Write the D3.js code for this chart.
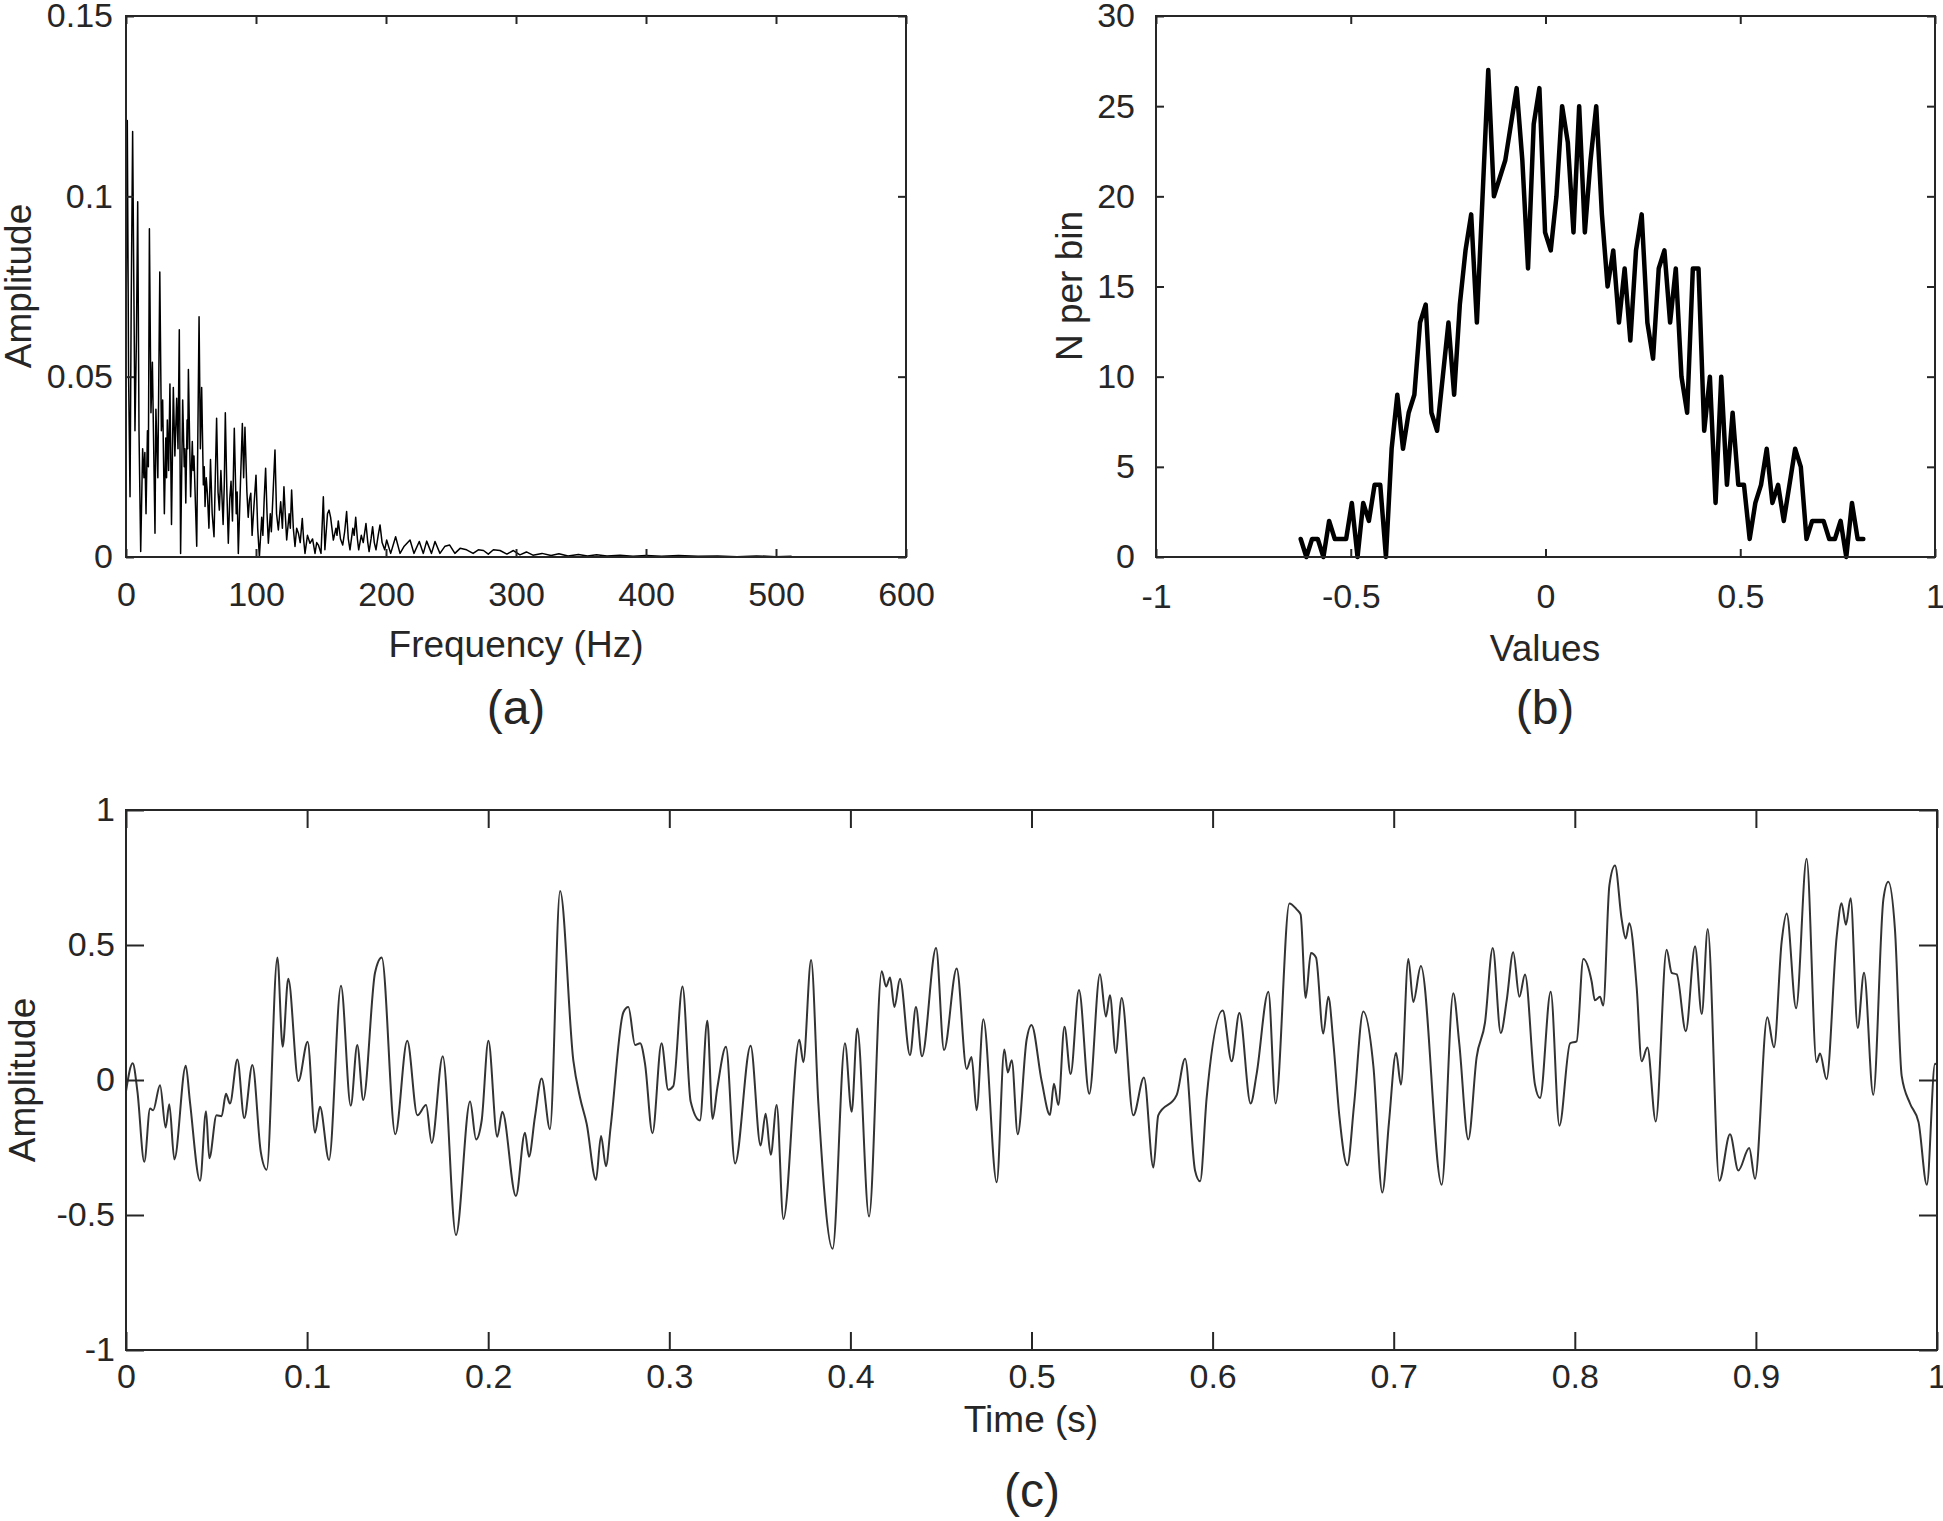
<!DOCTYPE html>
<html>
<head>
<meta charset="utf-8">
<script src="https://cdn.jsdelivr.net/npm/d3@7"></script>
<style>
  body { margin: 0; background: #fff; }
  text { font-family: "Liberation Sans", Arial, sans-serif; fill: #262626; }
</style>
</head>
<body>
<script>
// ---- (a) amplitude spectrum (Hz, amplitude)
var specFreq = [0, 1, 2, 3.1, 4, 5.1, 6.9, 8, 9, 10, 11.3, 12.8, 13.8, 14.5, 15.4, 16.5, 17.2,
  18, 19.2, 20.3, 22.3, 23, 24.5, 26, 27.2, 28.2, 29.5, 30.6, 31.2, 31.8, 32.8, 33.8, 35,
  36.4, 37.6, 39, 40, 41, 42, 43.6, 44.8, 45.3, 46, 47, 47.5, 48, 49.7, 51, 51.6, 52.3, 54.4,
  56.2, 57.2, 58.2, 59.5, 60.2, 60.8, 61.7, 62.6, 63.8, 65, 66.3, 67.7, 68.7, 69.7, 70.8,
  71.8, 73, 74.7, 75.6, 76.4, 77.6, 78.7, 79.8, 80.8, 81.9, 83.3, 84.8, 85.5, 86.4, 88,
  89.5, 90.5, 91.5, 93, 94, 95, 96, 97, 98.4, 100, 101.3, 102.6, 104.4, 105.3, 106.3,
  107.4, 108.5, 109.5, 111, 111.8, 112.8, 114.6, 115.8, 117.2, 119, 120.3, 121.5, 122.5,
  123.6, 125.5, 126.4, 127.4, 128.7, 130, 131.3, 132.6, 134, 135.6, 136.6, 137.7, 139.6,
  141.5, 143.5, 145.4, 146.7, 148, 150, 151.8, 153, 155, 156.2, 157.4, 158.4, 159.5,
  161.5, 162.3, 163.3, 165, 166.7, 168.2, 169.7, 171, 172.3, 174.5, 175.5, 176.7, 178,
  179, 181, 182.5, 184.6, 186, 187, 188.5, 189.7, 191, 192.3, 194, 195.4, 197, 199,
  200.5, 203.6, 207.4, 210.8, 214, 218.5, 221.5, 225.6, 228.7, 231.3, 235, 237.7, 241.5,
  245.4, 249, 253, 257, 262, 267, 271, 275, 278.7, 282.6, 287.7, 293, 298, 303, 308, 313,
  320, 327, 333, 340, 348, 355, 362, 370, 380, 390, 400, 412, 425, 440, 455, 470, 485,
  500, 512];
var specAmp = [0.061, 0.121, 0.05, 0.0167, 0.07, 0.118, 0.035, 0.06, 0.0985, 0.035, 0.0015,
  0.030, 0.022, 0.029, 0.012, 0.035, 0.025, 0.091, 0.040, 0.054, 0.0066, 0.041, 0.022,
  0.079, 0.035, 0.0435, 0.012, 0.033, 0.022, 0.038, 0.024, 0.048, 0.009, 0.047, 0.028,
  0.044, 0.03, 0.063, 0.001, 0.0435, 0.025, 0.03, 0.015, 0.038, 0.03, 0.052, 0.0167, 0.032,
  0.024, 0.028, 0.003, 0.0666, 0.03, 0.047, 0.02, 0.025, 0.014, 0.022, 0.0177, 0.008,
  0.027, 0.012, 0.0056, 0.022, 0.0385, 0.018, 0.013, 0.024, 0.009, 0.02, 0.040, 0.018,
  0.0038, 0.016, 0.021, 0.01, 0.0357, 0.012, 0.018, 0.001, 0.02, 0.037, 0.022, 0.036,
  0.018, 0.011, 0.016, 0.0177, 0.006, 0.014, 0.0227, 0.008, 0, 0.011, 0.006, 0.016, 0.0246,
  0.012, 0.0038, 0.012, 0.007, 0.015, 0.0297, 0.012, 0.0075, 0.0153, 0.008, 0.0195, 0.012,
  0.0047, 0.012, 0.008, 0.0186, 0.008, 0.0029, 0.008, 0.0066, 0.004, 0.0107, 0.005, 0.001,
  0.006, 0.0038, 0.005, 0.001, 0.004, 0.0033, 0.001, 0.0167, 0.002, 0.012, 0.013, 0.011,
  0.008, 0.0047, 0.008, 0.006, 0.010, 0.005, 0.0033, 0.007, 0.0126, 0.005, 0.002, 0.008,
  0.006, 0.011, 0.005, 0.002, 0.006, 0.004, 0.0093, 0.004, 0.0015, 0.005, 0.0084, 0.004,
  0.002, 0.006, 0.0089, 0.004, 0.002, 0.0047, 0.001, 0.0056, 0.001, 0.003, 0.0047, 0.001,
  0.0043, 0.001, 0.0044, 0.001, 0.0043, 0.001, 0.003, 0.0033, 0.001, 0.0024, 0.002, 0.001,
  0.002, 0.0018, 0.0008, 0.002, 0.0018, 0.0008, 0.0018, 0.0006, 0.0014, 0.0005, 0.001,
  0.0004, 0.0009, 0.0003, 0.0007, 0.0003, 0.0006, 0.0003, 0.0005, 0.0002, 0.0004, 0.0002,
  0.0004, 0.0002, 0.0003, 0.0001, 0.0003, 0.0001, 0.0002];

// ---- (b) histogram, counts per bin
var histCounts = [1, 0, 1, 1, 0, 2, 1, 1, 1, 3, 0, 3, 2, 4, 4, 0, 6, 9, 6, 8, 9, 13, 14, 8, 7,
  10, 13, 9, 14, 17, 19, 13, 20, 27, 20, 21, 22, 24, 26, 22, 16, 24, 26, 18, 17, 20, 25, 23,
  18, 25, 18, 22, 25, 19, 15, 17, 13, 16, 12, 17, 19, 13, 11, 16, 17, 13, 16, 10, 8, 16, 16,
  7, 10, 3, 10, 4, 8, 4, 4, 1, 3, 4, 6, 3, 4, 2, 4, 6, 5, 1, 2, 2, 2, 1, 1, 2, 0, 3, 1, 1];
var histFirstCenter = -0.6285;
var histLastCenter = 0.816;

// ---- (c) time signal (s, amplitude)
var sigTime = [0, 0.0037, 0.0063, 0.0101, 0.0133, 0.015, 0.0188, 0.0219, 0.0239, 0.0267,
  0.033, 0.0353, 0.0409, 0.0442, 0.046, 0.05, 0.0528, 0.0552, 0.0574, 0.0615, 0.0653,
  0.0698, 0.0744, 0.0777, 0.0836, 0.0865, 0.0896, 0.0952, 0.1003, 0.1044, 0.1071, 0.1121,
  0.1187, 0.1241, 0.1277, 0.131, 0.1375, 0.1412, 0.1487, 0.1553, 0.1609, 0.1657, 0.1688,
  0.1749, 0.1822, 0.19, 0.1933, 0.1964, 0.2001, 0.205, 0.2078, 0.2153, 0.2203, 0.2225,
  0.2258, 0.2295, 0.2341, 0.2397, 0.247, 0.2507, 0.2544, 0.2595, 0.2623, 0.265, 0.2676,
  0.2746, 0.2774, 0.2811, 0.2839, 0.2866, 0.2907, 0.2957, 0.2994, 0.3022, 0.3073, 0.3118,
  0.3169, 0.321, 0.3239, 0.3265, 0.3313, 0.3363, 0.3449, 0.3504, 0.3532, 0.356, 0.3593,
  0.363, 0.3718, 0.374, 0.3783, 0.3823, 0.3902, 0.397, 0.4007, 0.4038, 0.4103, 0.4173,
  0.4197, 0.4219, 0.4243, 0.4274, 0.4329, 0.4362, 0.4395, 0.4473, 0.4517, 0.4587, 0.4642,
  0.4669, 0.4697, 0.4734, 0.4808, 0.485, 0.4869, 0.4891, 0.4924, 0.4973, 0.5, 0.5056,
  0.5102, 0.5124, 0.5148, 0.5182, 0.5216, 0.5262, 0.5319, 0.5378, 0.5411, 0.5433, 0.5465,
  0.5498, 0.5562, 0.5621, 0.5673, 0.57, 0.5802, 0.5848, 0.5903, 0.5931, 0.5967, 0.6056,
  0.6105, 0.6148, 0.621, 0.6243, 0.6308, 0.6348, 0.6424, 0.6464, 0.6486, 0.6514, 0.6543,
  0.6571, 0.6611, 0.6639, 0.6667, 0.67, 0.6744, 0.6781, 0.6832, 0.6888, 0.6937, 0.6974,
  0.7013, 0.704, 0.7081, 0.7108, 0.715, 0.7265, 0.7329, 0.7362, 0.7412, 0.7458, 0.7504,
  0.7547, 0.7591, 0.7624, 0.766, 0.7694, 0.7725, 0.778, 0.7808, 0.7867, 0.7915, 0.7974,
  0.801, 0.8047, 0.8093, 0.8111, 0.8139, 0.8157, 0.8191, 0.8222, 0.8259, 0.8281, 0.8301,
  0.8342, 0.8369, 0.8401, 0.8447, 0.8507, 0.8535, 0.8563, 0.8613, 0.8664, 0.8701, 0.8734,
  0.8798, 0.8857, 0.8903, 0.8963, 0.8995, 0.9063, 0.91, 0.9142, 0.917, 0.9222, 0.928,
  0.9335, 0.9354, 0.939, 0.9446, 0.9473, 0.9497, 0.9523, 0.9562, 0.9597, 0.9648, 0.9704,
  0.9731, 0.9768, 0.9805, 0.9851, 0.9898, 0.9944, 0.9989, 1.0];
var sigAmp = [-0.042, 0.062, -0.042, -0.303, -0.106, -0.112, -0.019, -0.176, -0.09, -0.294,
  0.053, -0.08, -0.373, -0.116, -0.29, -0.131, -0.134, -0.051, -0.087, 0.076, -0.141,
  0.056, -0.265, -0.332, 0.454, 0.123, 0.375, -0.004, 0.142, -0.195, -0.099, -0.296,
  0.349, -0.095, 0.130, -0.074, 0.397, 0.454, -0.201, 0.145, -0.131, -0.093, -0.233,
  0.088, -0.574, -0.08, -0.22, -0.15, 0.145, -0.21, -0.118, -0.43, -0.195, -0.284,
  -0.137, 0.006, -0.182, 0.70, 0.073, -0.065, -0.163, -0.37, -0.207, -0.319, -0.175,
  0.25, 0.27, 0.13, 0.136, 0.06, -0.197, 0.136, -0.036, -0.023, 0.346, -0.08,
  -0.15, 0.219, -0.144, -0.03, 0.123, -0.309, 0.127, -0.243, -0.125, -0.277, -0.093,
  -0.515, 0.149, 0.066, 0.444, -0.086, -0.625, 0.136, -0.118, 0.191, -0.506, 0.403,
  0.346, 0.38, 0.27, 0.375, 0.092, 0.27, 0.088, 0.489, 0.111, 0.413, 0.041,
  0.085, -0.112, 0.225, -0.379, 0.113, 0.028, 0.073, -0.201, 0.149, 0.204, -0.004,
  -0.129, -0.014, -0.093, 0.197, 0.022, 0.333, -0.051, 0.392, 0.235, 0.314, 0.1,
  0.304, -0.131, 0.009, -0.324, -0.131, -0.055, 0.079, -0.335, -0.375, -0.067, 0.257,
  0.069, 0.248, -0.087, 0.022, 0.327, -0.087, 0.654, 0.632, 0.613, 0.304, 0.47,
  0.454, 0.172, 0.308, 0.136, -0.134, -0.316, -0.093, 0.254, 0.05, -0.417, -0.156,
  0.1, -0.017, 0.448, 0.289, 0.422, -0.388, 0.321, 0.136, -0.22, 0.085, 0.212,
  0.489, 0.174, 0.295, 0.473, 0.308, 0.391, -0.017, -0.067, 0.327, -0.169, 0.136,
  0.143, 0.448, 0.365, 0.295, 0.308, 0.276, 0.721, 0.794, 0.594, 0.524, 0.581,
  0.34, 0.069, 0.12, -0.154, 0.482, 0.397, 0.391, 0.181, 0.495, 0.244, 0.559,
  -0.373, -0.201, -0.335, -0.252, -0.366, 0.232, 0.121, 0.511, 0.617, 0.266, 0.819,
  0.066, 0.098, 0.003, 0.531, 0.655, 0.575, 0.673, 0.193, 0.397, -0.055, 0.67,
  0.734, 0.556, 0.015, -0.087, -0.156, -0.388, 0.06, 0.057];

// ---- tick values
var aTicksX = [0, 100, 200, 300, 400, 500, 600];
var aTicksY = [0, 0.05, 0.1, 0.15];
var bTicksX = [-1, -0.5, 0, 0.5, 1];
var bTicksY = [0, 5, 10, 15, 20, 25, 30];
var cTicksX = [0, 0.1, 0.2, 0.3, 0.4, 0.5, 0.6, 0.7, 0.8, 0.9, 1];
var cTicksY = [-1, -0.5, 0, 0.5, 1];

var W = 1943, H = 1521;
var AXIS_COLOR = "#262626";

function fmt(d) { return String(d); }

// box with inward ticks on all four sides, MATLAB style
function frame(svg, x, y, xTicks, yTicks, tickLen, xPad, yPad) {
  var x0 = x.range()[0], x1 = x.range()[1];
  var y0 = y.range()[0], y1 = y.range()[1];

  var axes = [
    { a: d3.axisBottom(x).tickValues(xTicks).tickFormat(fmt).tickPadding(xPad), t: "translate(0," + y0 + ")" },
    { a: d3.axisTop(x).tickValues(xTicks).tickFormat(""), t: "translate(0," + y1 + ")" },
    { a: d3.axisLeft(y).tickValues(yTicks).tickFormat(fmt).tickPadding(yPad), t: "translate(" + x0 + ",0)" },
    { a: d3.axisRight(y).tickValues(yTicks).tickFormat(""), t: "translate(" + x1 + ",0)" }
  ];
  axes.forEach(function(ax) {
    var g = svg.append("g")
      .attr("transform", ax.t)
      .attr("color", AXIS_COLOR)
      .call(ax.a.tickSizeInner(-tickLen).tickSizeOuter(0));
    g.attr("font-size", 34);   // after call: the axis sets its own size
    g.select(".domain").remove();
    g.selectAll(".tick line").attr("stroke-width", 2);
  });

  svg.append("rect")
    .attr("x", x0).attr("y", y1)
    .attr("width", x1 - x0).attr("height", y0 - y1)
    .attr("fill", "none")
    .attr("stroke", AXIS_COLOR)
    .attr("stroke-width", 2);
}

function label(svg, txt, x, y, size, rotate) {
  svg.append("text")
    .attr("transform", "translate(" + x + "," + y + ")" + (rotate ? " rotate(-90)" : ""))
    .attr("text-anchor", "middle")
    .attr("font-size", size)
    .text(txt);
}

function main() {
  var svg = d3.select("body")
    .append("svg")
    .attr("width", W)
    .attr("height", H);

  // ---- panel (a)
  var ax = d3.scaleLinear().domain([0, 600]).range([126, 906]);
  var ay = d3.scaleLinear().domain([0, 0.15]).range([557, 16]);
  var specData = specFreq.map(function(f, i) { return [f, specAmp[i]]; });

  svg.append("path")
    .datum(specData)
    .attr("d", d3.line().x(function(d) { return ax(d[0]); }).y(function(d) { return ay(d[1]); }))
    .attr("fill", "none")
    .attr("stroke", "#000")
    .attr("stroke-width", 1.5)
    .attr("stroke-linejoin", "round");

  frame(svg, ax, ay, aTicksX, aTicksY, 8, 25, 13);
  label(svg, "Frequency (Hz)", 516, 657, 37);
  label(svg, "Amplitude", 31, 286, 37, true);
  label(svg, "(a)", 516, 724, 48);

  // ---- panel (b)
  var bx = d3.scaleLinear().domain([-1, 1]).range([1156, 1935]);
  var by = d3.scaleLinear().domain([0, 30]).range([557, 16]);
  var step = (histLastCenter - histFirstCenter) / (histCounts.length - 1);
  var histData = histCounts.map(function(c, i) { return [histFirstCenter + i * step, c]; });

  svg.append("path")
    .datum(histData)
    .attr("d", d3.line().x(function(d) { return bx(d[0]); }).y(function(d) { return by(d[1]); }))
    .attr("fill", "none")
    .attr("stroke", "#000")
    .attr("stroke-width", 4.5)
    .attr("stroke-linejoin", "round")
    .attr("stroke-linecap", "round");

  frame(svg, bx, by, bTicksX, bTicksY, 8, 27, 21);
  label(svg, "Values", 1545, 661, 37);
  label(svg, "N per bin", 1082, 286, 37, true);
  label(svg, "(b)", 1545, 724, 48);

  // ---- panel (c)
  var cx = d3.scaleLinear().domain([0, 1]).range([126, 1937]);
  var cy = d3.scaleLinear().domain([-1, 1]).range([1350, 810]);
  var sigData = sigTime.map(function(t, i) { return [t, sigAmp[i]]; });

  svg.append("path")
    .datum(sigData)
    .attr("d", d3.line()
      .curve(d3.curveMonotoneX)
      .x(function(d) { return cx(d[0]); })
      .y(function(d) { return cy(d[1]); }))
    .attr("fill", "none")
    .attr("stroke", "#333")
    .attr("stroke-width", 2);

  frame(svg, cx, cy, cTicksX, cTicksY, 18, 14, 11);
  label(svg, "Time (s)", 1031, 1432, 37);
  label(svg, "Amplitude", 35, 1080, 37, true);
  label(svg, "(c)", 1032, 1507, 48);
}
main();
</script>
</body>
</html>
